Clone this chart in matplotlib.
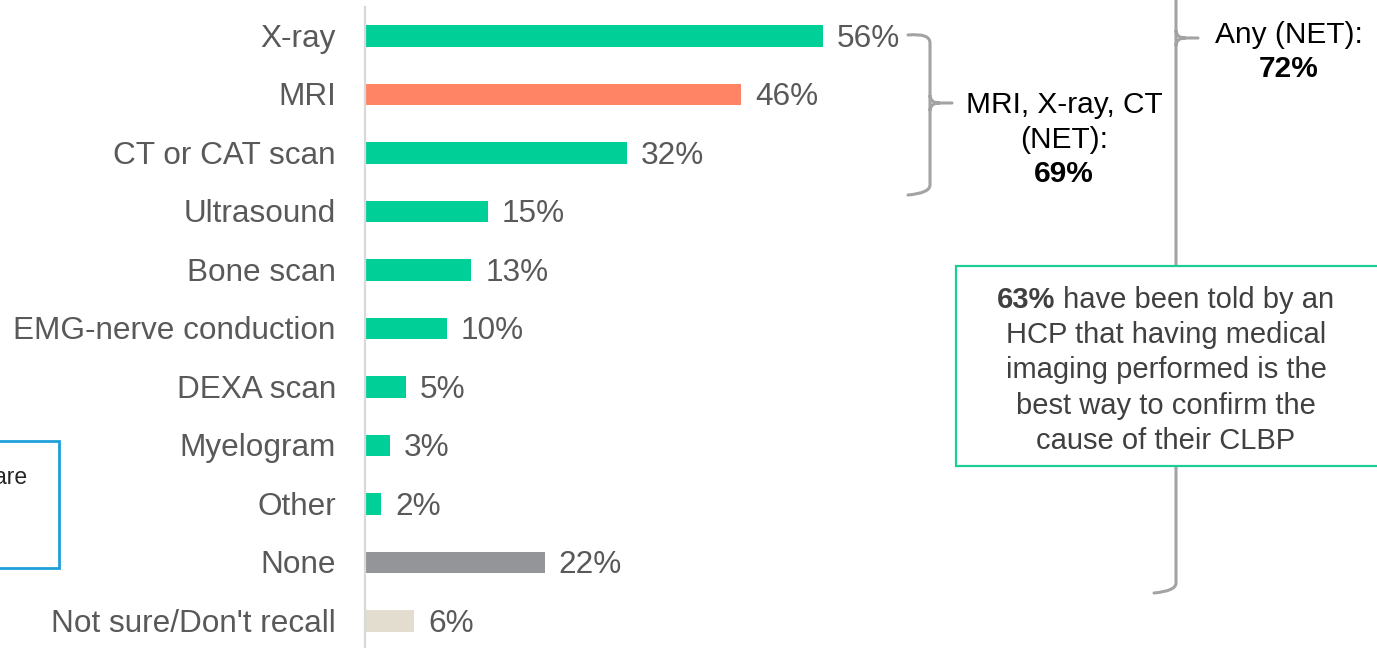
import matplotlib
matplotlib.use("Agg")
import matplotlib.pyplot as plt
from matplotlib.path import Path
from matplotlib.patches import PathPatch, Rectangle

plt.rcParams['font.family'] = ['Liberation Sans', 'DejaVu Sans']

# Data
categories = ['X-ray', 'MRI', 'CT or CAT scan', 'Ultrasound', 'Bone scan',
              'EMG-nerve conduction', 'DEXA scan', 'Myelogram', 'Other',
              'None', "Not sure/Don't recall"]
values = [56, 46, 32, 15, 13, 10, 5, 3, 2, 22, 6]
net_xray_mri_ct = 69
net_any = 72
told_by_hcp = 63

green = '#00cf98'
bar_colors = [green, '#ff8466', green, green, green, green, green, green, green,
              '#939598', '#e3ddd0']
label_grey = '#595959'
brace_grey = '#a3a3a3'

W, H = 1377, 648
fig = plt.figure(figsize=(W / 100, H / 100), dpi=100)

# main bar axes, starting at the vertical axis line
px_per_pct = 8.18
left_px = 365
ax = fig.add_axes([left_px / W, 0, (W - left_px) / W, 1])
ax.set_xlim(0, (W - left_px) / px_per_pct)
y_first, step = 36, 58.5
ax.set_ylim((H - y_first) / step, -y_first / step)
ax.axis('off')

ypos = list(range(len(categories)))
ax.barh(ypos, values, height=0.36, color=bar_colors, zorder=2)
for y, v, c in zip(ypos, values, categories):
    ax.annotate(f'{v}%', xy=(v, y), xytext=(10, -2), textcoords='offset points',
                va='center', ha='left', fontsize=22.7, color=label_grey)
    ax.annotate(c, xy=(0, y), xytext=(-21, -2), textcoords='offset points',
                va='center', ha='right', fontsize=22.7, color=label_grey,
                annotation_clip=False)

# overlay in pixel coordinates for the call-outs
ov = fig.add_axes([0, 0, 1, 1], zorder=3)
ov.set_xlim(0, W)
ov.set_ylim(H, 0)
ov.axis('off')
ov.patch.set_alpha(0)

# axis line
ov.plot([364.5, 364.5], [7, H], color='#d9d9d9', lw=1.6, zorder=1)

M, L, C = Path.MOVETO, Path.LINETO, Path.CURVE3


def brace(x_end, x_sp, y_top, y_bot, y_mid, x_tip, top_open=False):
    if top_open:
        verts = [(x_sp, y_top), (x_sp, y_bot - 8), (x_sp, y_bot), (x_end, y_bot + 2)]
        codes = [M, L, C, C]
    else:
        verts = [(x_end, y_top + 2), (x_sp, y_top), (x_sp, y_top + 10),
                 (x_sp, y_bot - 8), (x_sp, y_bot), (x_end, y_bot + 2)]
        codes = [M, C, C, L, C, C]
    verts += [(x_sp, y_mid - 7), (x_sp + 1, y_mid), (x_sp + 9, y_mid), (x_tip, y_mid),
              (x_sp, y_mid + 7), (x_sp + 1, y_mid), (x_sp + 9, y_mid)]
    codes += [M, C, C, L, M, C, C]
    ov.add_patch(PathPatch(Path(verts, codes), fill=False, edgecolor=brace_grey,
                           lw=2.2, capstyle='round', zorder=2))


brace(908, 930, 33, 193, 103, 952)
brace(1154, 1176, -5, 591, 38, 1198, top_open=True)

ov.text(1064, 105, 'MRI, X-ray, CT', ha='center', va='center', fontsize=21.5, color='black')
ov.text(1064, 140, '(NET):', ha='center', va='center', fontsize=21.5, color='black')
ov.text(1064, 174, f'{net_xray_mri_ct}%', ha='center', va='center', fontsize=21.5,
        color='black', weight='bold')
ov.text(1289, 35, 'Any (NET):', ha='center', va='center', fontsize=21.5, color='black')
ov.text(1289, 69, f'{net_any}%', ha='center', va='center', fontsize=21.5,
        color='black', weight='bold')

# green call-out box
ov.add_patch(Rectangle((956, 266), 424, 200, facecolor='white', edgecolor='#1dcb95',
                       lw=1.6, zorder=4))
box_grey = '#404040'
t1 = ov.text(997, 300, f'{told_by_hcp}%', ha='left', va='center', fontsize=21,
             color=box_grey, weight='bold', zorder=5)
ov.annotate(' have been told by an', xy=(1, 0.5), xycoords=t1, ha='left', va='center',
            fontsize=21, color=box_grey, zorder=5)
box_lines = ['HCP that having medical', 'imaging performed is the',
             'best way to confirm the', 'cause of their CLBP']
for i, line in enumerate(box_lines):
    ov.text(1166, 335 + 35.3 * i, line, ha='center', va='center', fontsize=21,
            color=box_grey, zorder=5)

# partly hidden blue box on the left edge
ov.add_patch(Rectangle((-20, 441), 79, 127, facecolor='none', edgecolor='#1e9fd9',
                       lw=2, zorder=4))
ov.text(27, 484, 'are', ha='right', va='baseline', fontsize=16.5, color='#262626', zorder=5)

fig.savefig('out.png', dpi=100)
